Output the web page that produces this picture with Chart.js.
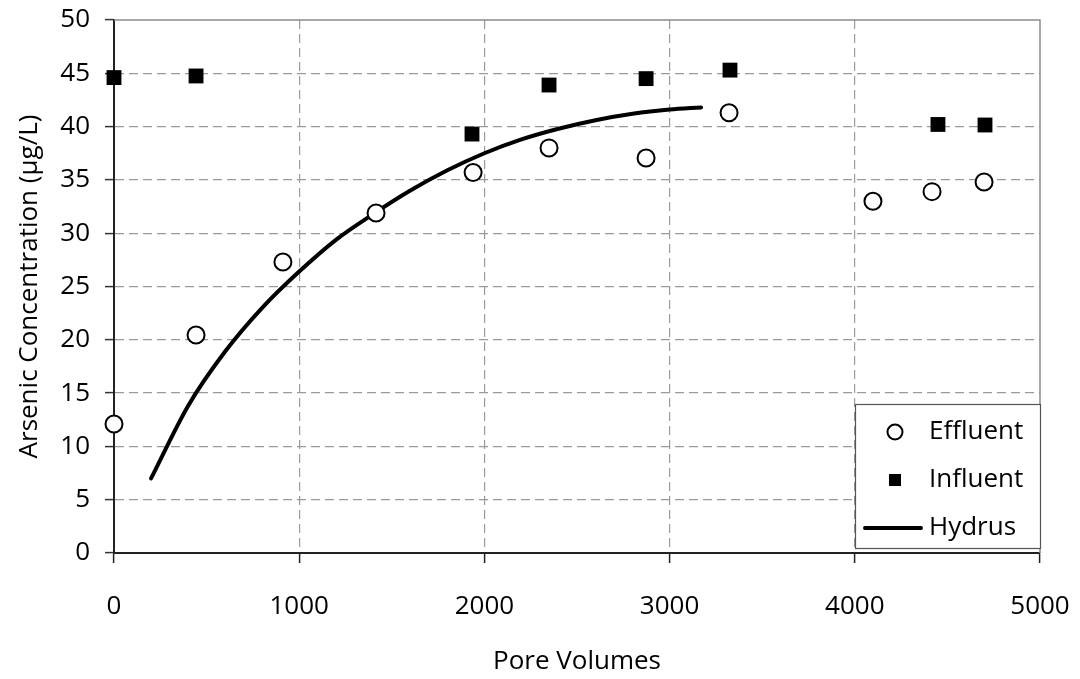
<!DOCTYPE html>
<html>
<head>
<meta charset="utf-8">
<script src="https://cdn.jsdelivr.net/npm/chart.js@4/dist/chart.umd.min.js"></script>
<style>
  html, body { margin: 0; padding: 0; background: #fff; }
  #wrap { width: 1080px; height: 679px; }
</style>
</head>
<body>
<div id="wrap"><canvas id="arsenic"></canvas></div>
<script>
const effluentPV = [0, 443, 912, 1415, 1939, 2349, 2873, 3321, 4098, 4417, 4698];
const effluentConc = [12.1, 20.45, 27.3, 31.9, 35.7, 38.0, 37.05, 41.3, 33.0, 33.9, 34.8];

const influentPV = [0, 443, 1933, 2349, 2873, 3326, 4449, 4703];
const influentConc = [44.6, 44.75, 39.3, 43.9, 44.5, 45.3, 40.2, 40.15];

const hydrusPV = [200, 400, 600, 800, 1000, 1200, 1400, 1600, 1800, 2000, 2200, 2400, 2600, 2800, 3000, 3170];
const hydrusConc = [7.0, 13.8, 18.9, 23.0, 26.4, 29.4, 31.8, 34.0, 35.9, 37.5, 38.8, 39.8, 40.6, 41.2, 41.6, 41.8];

const xTicks = [0, 1000, 2000, 3000, 4000, 5000];
const yTicks = [0, 5, 10, 15, 20, 25, 30, 35, 40, 45, 50];

const FONT = "'Open Sans', 'Noto Sans', sans-serif";
const FSIZE = 26;

function toPoints(xs, ys) {
    return xs.map((x, i) => ({ x: x, y: ys[i] }));
}

// gray frame on top and right of the plot area
const framePlugin = {
    id: "frame",
    beforeDatasetsDraw(chart) {
        const { ctx, chartArea: a } = chart;
        ctx.save();
        ctx.strokeStyle = "#8c8c8c";
        ctx.lineWidth = 1.5;
        ctx.beginPath();
        ctx.moveTo(a.left, a.top);
        ctx.lineTo(a.right, a.top);
        ctx.lineTo(a.right, a.bottom);
        ctx.stroke();
        ctx.restore();
    }
};

// boxed legend in the lower right corner
const legendBox = {
    id: "legendBox",
    afterDraw(chart) {
        const { ctx, chartArea: a } = chart;
        const ds = chart.data.datasets;
        const x0 = a.right - 185, y0 = a.bottom - 149;
        ctx.save();
        ctx.fillStyle = "#fff";
        ctx.fillRect(x0, y0, 185, 144);
        ctx.strokeStyle = "#555";
        ctx.lineWidth = 1.2;
        ctx.strokeRect(x0 + 0.5, y0 + 0.5, 185, 144);

        const mx = x0 + 40;
        // effluent circle
        ctx.beginPath();
        ctx.arc(mx, y0 + 28, 7.5, 0, Math.PI * 2);
        ctx.fillStyle = "#fff";
        ctx.fill();
        ctx.lineWidth = 2;
        ctx.strokeStyle = "#000";
        ctx.stroke();
        // influent square
        ctx.fillStyle = "#000";
        ctx.fillRect(mx - 6, y0 + 76 - 6, 12, 12);
        // hydrus line
        ctx.beginPath();
        ctx.lineCap = "round";
        ctx.lineWidth = 4;
        ctx.moveTo(x0 + 10, y0 + 124);
        ctx.lineTo(x0 + 66, y0 + 124);
        ctx.stroke();

        ctx.fillStyle = "#000";
        ctx.font = FSIZE + "px " + FONT;
        ctx.textBaseline = "middle";
        ctx.textAlign = "left";
        ctx.fillText(ds[0].label, x0 + 74, y0 + 28);
        ctx.fillText(ds[1].label, x0 + 74, y0 + 76);
        ctx.fillText(ds[2].label, x0 + 74, y0 + 124);
        ctx.restore();
    }
};

new Chart(document.getElementById("arsenic"), {
    type: "scatter",
    data: {
        datasets: [{
            label: "Effluent",
            data: toPoints(effluentPV, effluentConc),
            pointStyle: "circle",
            pointRadius: 8.5,
            pointBackgroundColor: "#fff",
            pointBorderColor: "#000",
            pointBorderWidth: 2,
            showLine: false,
            clip: false,
        }, {
            label: "Influent",
            data: toPoints(influentPV, influentConc),
            pointStyle: "rect",
            pointRadius: 10.5,
            pointBackgroundColor: "#000",
            pointBorderColor: "#000",
            pointBorderWidth: 0,
            showLine: false,
            clip: false,
        }, {
            label: "Hydrus",
            data: toPoints(hydrusPV, hydrusConc),
            showLine: true,
            borderColor: "#000",
            borderWidth: 4,
            pointRadius: 0,
            cubicInterpolationMode: "monotone",
            borderCapStyle: "round",
            order: 3,
        }],
    },
    options: {
        responsive: true,
        maintainAspectRatio: false,
        animation: false,
        layout: {
            padding: { left: 0, right: 40, top: 20, bottom: 0 }
        },
        plugins: {
            legend: { display: false },
            tooltip: { enabled: false },
        },
        scales: {
            x: {
                type: "linear",
                min: 0,
                max: 5000,
                afterBuildTicks(scale) {
                    scale.ticks = xTicks.map(v => ({ value: v }));
                },
                afterFit(scale) {
                    scale.height = 126;
                    scale.paddingLeft = 0;
                    scale.paddingRight = 0;
                },
                ticks: {
                    color: "#000",
                    padding: 28,
                    callback: v => String(v),
                    font: { family: FONT, size: FSIZE },
                },
                grid: {
                    color: ctx => (ctx.tick && ctx.tick.value > 0 && ctx.tick.value < 5000) ? "#9a9a9a" : "rgba(0,0,0,0)",
                    lineWidth: 1.2,
                    tickLength: 10,
                    tickColor: "#222",
                    tickWidth: 1.5,
                },
                border: {
                    color: "#222",
                    width: 2,
                    dash: [9, 5],
                },
                title: {
                    display: true,
                    text: "Pore Volumes",
                    color: "#000",
                    font: { family: FONT, size: FSIZE },
                    padding: { top: 0, bottom: 2 },
                },
            },
            y: {
                type: "linear",
                min: 0,
                max: 50,
                afterBuildTicks(scale) {
                    scale.ticks = yTicks.map(v => ({ value: v }));
                },
                afterFit(scale) {
                    scale.width = 114;
                    scale.paddingTop = 0;
                    scale.paddingBottom = 0;
                },
                ticks: {
                    color: "#000",
                    padding: 15,
                    font: { family: FONT, size: FSIZE },
                },
                grid: {
                    color: ctx => (ctx.tick && ctx.tick.value > 0 && ctx.tick.value < 50) ? "#9a9a9a" : "rgba(0,0,0,0)",
                    lineWidth: 1.2,
                    tickLength: 9,
                    tickColor: "#333",
                    tickWidth: 1.5,
                },
                border: {
                    color: "#222",
                    width: 2,
                    dash: [9, 5],
                },
                title: {
                    display: true,
                    text: "Arsenic Concentration (µg/L)",
                    color: "#000",
                    font: { family: FONT, size: FSIZE },
                    padding: { top: 14, bottom: 0 },
                },
            },
        },
    },
    plugins: [framePlugin, legendBox],
});
</script>
</body>
</html>
